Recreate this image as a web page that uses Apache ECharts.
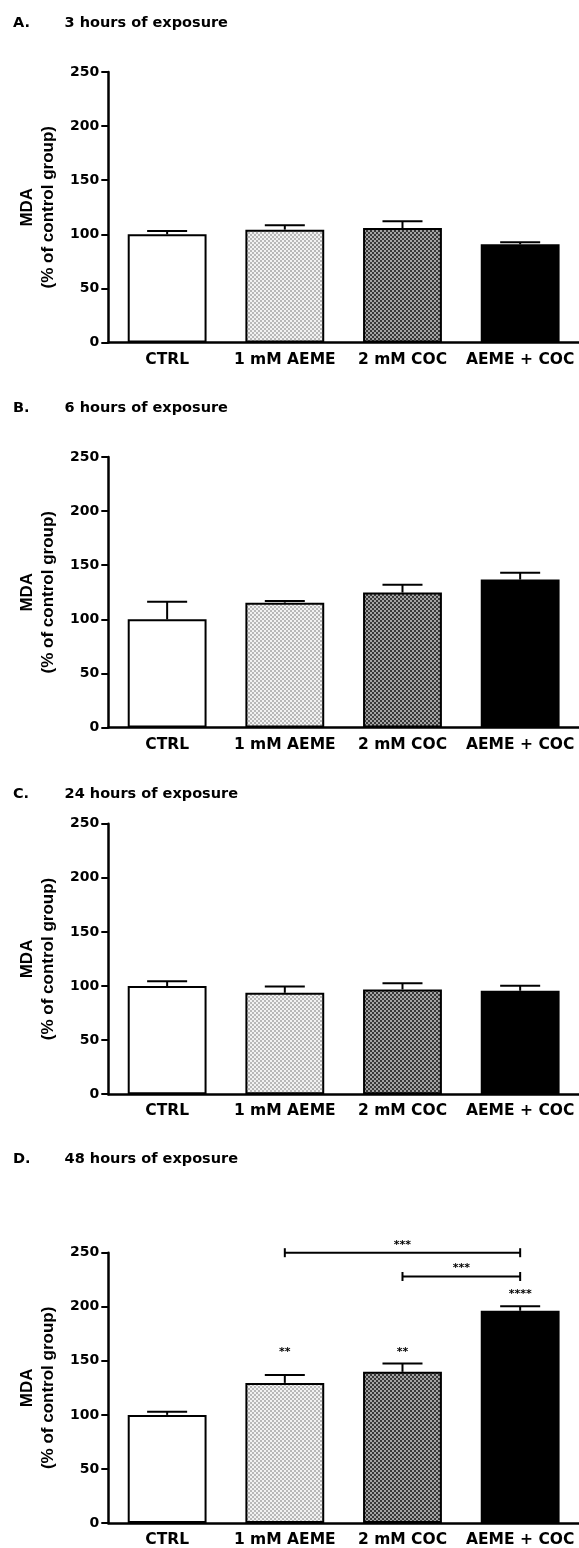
<!DOCTYPE html>
<html>
<head>
    <meta charset="utf-8">
    <title>MDA levels</title>
    <script src="https://cdn.jsdelivr.net/npm/echarts@6/dist/echarts.min.js"></script>
    <style>
        html, body { margin: 0; padding: 0; background: #fff; }
        #main { width: 579px; height: 1548px; }
    </style>
</head>
<body>
    <div id="main"></div>
    <script type="text/javascript">
        // categories and panel texts
        var categories = ['CTRL', '1 mM AEME', '2 mM COC', 'AEME + COC'];
        var panelLetters = ['A.', 'B.', 'C.', 'D.'];
        var panelTitles = ['3 hours of exposure', '6 hours of exposure', '24 hours of exposure', '48 hours of exposure'];

        // MDA (% of control group), mean and SEM
        var mda3h = [100, 104.3, 105.8, 90.7];
        var sem3h = [3, 4, 6.2, 1.9];
        var mda6h = [100, 115.4, 124.7, 136.7];
        var sem6h = [16.3, 1.6, 7.3, 6.3];
        var mda24h = [100, 93.7, 96.8, 95.6];
        var sem24h = [4.4, 5.8, 5.8, 4.6];
        var mda48h = [100, 129.6, 139.8, 196.3];
        var sem48h = [2.8, 7.4, 7.8, 4.1];

        // significance marks (48 h)
        var stars48h = ['', '**', '**', '****'];
        var starsY48h = [null, 161, 161, 214];
        var bracketFrom = [1, 2];
        var bracketTo = [3, 3];
        var bracketY = [250, 228];
        var bracketText = ['***', '***'];

        // y axis ticks
        var yMin = 0, yMax = 250, yStep = 50;

        var means = [mda3h, mda6h, mda24h, mda48h];
        var sems = [sem3h, sem6h, sem24h, sem48h];

        // layout
        var gridLeft = 108.3;
        var gridWidth = 476.8;
        var gridHeight = 270.5;
        var gridTops = [72, 457, 823.7, 1252.7];
        var titleMid = [22.3, 407.3, 793.3, 1158.3];

        var tickFont = 'DejaVu Sans';

        function makePattern(c1, c2) {
            var cv = document.createElement('canvas');
            cv.width = 4; cv.height = 4;
            var ctx = cv.getContext('2d');
            ctx.fillStyle = c1; ctx.fillRect(0, 0, 4, 4);
            ctx.fillStyle = c2; ctx.fillRect(0, 0, 2, 2); ctx.fillRect(2, 2, 2, 2);
            return { image: cv, repeat: 'repeat' };
        }
        var barFills = ['#ffffff', makePattern('#f2f2f2', '#b8b8b8'), makePattern('#a4a4a4', '#383838'), '#000000'];

        var myChart = echarts.init(document.getElementById('main'), null, { renderer: 'canvas' });

        var titles = [], grids = [], xAxes = [], yAxes = [], series = [];

        function errorItem(params, api) {
            var i = api.value(0);
            var base = api.coord([i, api.value(1)]);
            var top = api.coord([i, api.value(1) + api.value(2)]);
            var half = api.size([1, 0])[0] * 0.17;
            return {
                type: 'group',
                children: [
                    { type: 'line', shape: { x1: base[0], y1: base[1], x2: top[0], y2: top[1] }, style: { stroke: '#000', lineWidth: 2 } },
                    { type: 'line', shape: { x1: top[0] - half, y1: top[1], x2: top[0] + half, y2: top[1] }, style: { stroke: '#000', lineWidth: 2 } }
                ]
            };
        }

        for (var p = 0; p < 4; p++) {
            titles.push({
                text: panelLetters[p], left: 12.9, top: titleMid[p] - 7, padding: 0,
                textStyle: { fontFamily: tickFont, fontWeight: 'bold', fontSize: 14.5, color: '#000' }
            });
            titles.push({
                text: panelTitles[p], left: 64.6, top: titleMid[p] - 7, padding: 0,
                textStyle: { fontFamily: tickFont, fontWeight: 'bold', fontSize: 14.5, color: '#000' }
            });
            grids.push({ left: gridLeft, top: gridTops[p], width: gridWidth, height: gridHeight });
            xAxes.push({
                type: 'category', gridIndex: p, data: categories,
                axisLine: { lineStyle: { color: '#000', width: 2.5 } },
                axisTick: { alignWithLabel: true, length: 6, lineStyle: { color: '#000', width: 2 } },
                axisLabel: { interval: 0, margin: 9, color: '#000', fontFamily: tickFont, fontWeight: 'bold', fontSize: 15.5 }
            });
            yAxes.push({
                type: 'value', gridIndex: p, min: yMin, max: yMax, interval: yStep,
                name: 'MDA\n(% of control group)', nameLocation: 'middle', nameGap: 48,
                nameTextStyle: { fontFamily: 'Liberation Sans', fontWeight: 'bold', fontSize: 17, lineHeight: 21, color: '#000' },
                axisLine: { show: true, lineStyle: { color: '#000', width: 2.5 } },
                axisTick: { show: true, length: 7, lineStyle: { color: '#000', width: 2 } },
                axisLabel: { margin: 9, color: '#000', fontFamily: tickFont, fontWeight: 'bold', fontSize: 14 },
                splitLine: { show: false }
            });
            series.push({
                type: 'bar', xAxisIndex: p, yAxisIndex: p, barWidth: '67%',
                data: means[p].map(function (v, i) {
                    return { value: v, itemStyle: { color: barFills[i] } };
                }),
                itemStyle: { borderColor: '#000', borderWidth: 2 },
                silent: true
            });
            series.push({
                type: 'custom', xAxisIndex: p, yAxisIndex: p, renderItem: errorItem,
                data: means[p].map(function (v, i) { return [i, v, sems[p][i]]; }),
                encode: { x: 0, y: 1 }, z: 3, silent: true
            });
        }

        // stars over bars (48 h)
        var starIdx = [];
        for (var k = 0; k < stars48h.length; k++) if (stars48h[k]) starIdx.push(k);
        series.push({
            type: 'custom', xAxisIndex: 3, yAxisIndex: 3, z: 4, silent: true,
            data: starIdx.map(function (i) { return [i, starsY48h[i]]; }),
            encode: { x: 0, y: 1 },
            renderItem: function (params, api) {
                var pt = api.coord([api.value(0), api.value(1)]);
                return {
                    type: 'text', x: pt[0], y: pt[1] + 3,
                    style: { text: stars48h[starIdx[params.dataIndex]], fontFamily: tickFont, fontWeight: 'bold', fontSize: 11, fill: '#000', align: 'center', verticalAlign: 'middle' }
                };
            }
        });

        // comparison brackets (48 h)
        series.push({
            type: 'custom', xAxisIndex: 3, yAxisIndex: 3, z: 4, silent: true,
            data: bracketFrom.map(function (f, k) { return [f, bracketTo[k], bracketY[k]]; }),
            encode: { x: [0, 1], y: 2 },
            renderItem: function (params, api) {
                var a = api.coord([api.value(0), api.value(2)]);
                var b = api.coord([api.value(1), api.value(2)]);
                var st = { stroke: '#000', lineWidth: 2 };
                return {
                    type: 'group',
                    children: [
                        { type: 'line', shape: { x1: a[0], y1: a[1], x2: b[0], y2: b[1] }, style: st },
                        { type: 'line', shape: { x1: a[0], y1: a[1] - 4.5, x2: a[0], y2: a[1] + 4.5 }, style: st },
                        { type: 'line', shape: { x1: b[0], y1: b[1] - 4.5, x2: b[0], y2: b[1] + 4.5 }, style: st },
                        {
                            type: 'text', x: (a[0] + b[0]) / 2, y: a[1] - 8,
                            style: { text: bracketText[params.dataIndex], fontFamily: tickFont, fontWeight: 'bold', fontSize: 11, fill: '#000', align: 'center', verticalAlign: 'middle' }
                        }
                    ]
                };
            }
        });

        var option = {
            animation: false,
            backgroundColor: '#fff',
            title: titles,
            grid: grids,
            xAxis: xAxes,
            yAxis: yAxes,
            series: series
        };
        myChart.setOption(option);
    </script>
</body>
</html>
